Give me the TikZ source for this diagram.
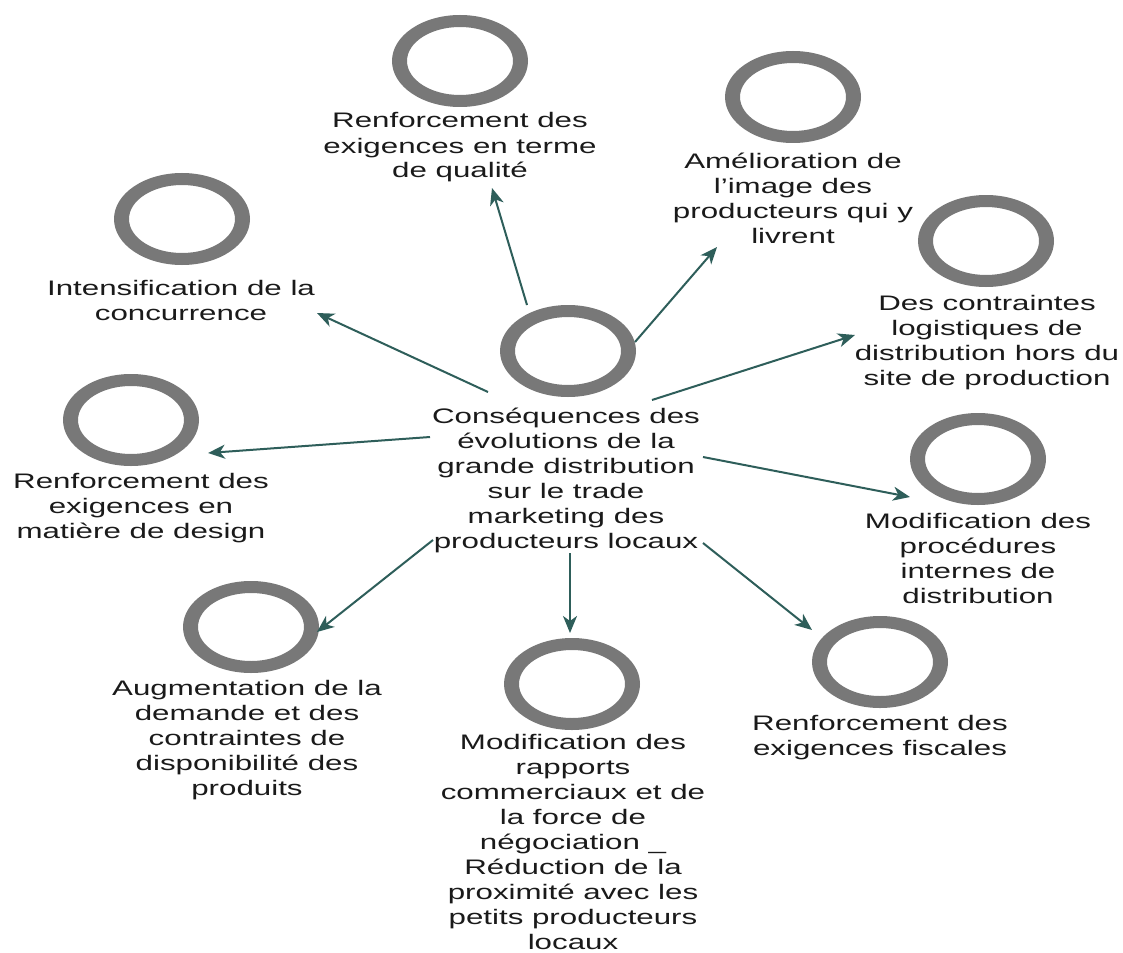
\documentclass[tikz,border=0pt]{standalone}
\usepackage{fontspec}
\setmainfont{Liberation Sans}[FakeStretch=1.49]
\usetikzlibrary{arrows.meta,shapes.geometric}
\definecolor{ringgray}{HTML}{787878}
\definecolor{arrteal}{HTML}{2E5E5A}
\definecolor{txt}{HTML}{1A1A1A}
\tikzset{
  lbl/.style={align=center, anchor=base, inner sep=0pt, text=txt,
    font=\fontsize{21}{25}\selectfont},
  ringnode/.style={shape=ellipse, minimum width=136pt, minimum height=92pt, inner sep=0pt},
  arr/.style={draw=arrteal, line width=2pt, -{Stealth[length=17pt,width=14pt,inset=5pt]}}
}
\newcommand\ringat[2]{%
  \node[ringnode] (#1) at (#2) {};
  \fill[ringgray,even odd rule] (#1.center) ellipse[x radius=68,y radius=46]
     (#1.center) ellipse[x radius=53,y radius=34];}
\begin{document}
\begin{tikzpicture}[x=1pt,y=-1pt]
\useasboundingbox[fill=white] (0,0) rectangle (1123,952);
% rings
\ringat{rc}{568,351}
\ringat{rqual}{460,61}
\ringat{ramel}{793,97}
\ringat{rlogi}{986,241}
\ringat{rproc}{978,459}
\ringat{rfisc}{880,662}
\ringat{rbot}{572,684}
\ringat{raugm}{251,627}
\ringat{rdes}{131,420}
\ringat{rint}{182,219}
% labels (anchored at the baseline of the last line)
\node[lbl] (tc) at (566,548) {Conséquences des\\évolutions de la\\grande distribution\\sur le trade\\marketing des\\producteurs locaux};
\node[lbl] (tqual) at (460,178) {Renforcement des\\exigences en terme\\de qualité};
\node[lbl] (tamel) at (793,243) {Amélioration de\\l'image des\\producteurs qui y\\livrent};
\node[lbl] (tlogi) at (987,385) {Des contraintes\\logistiques de\\distribution hors du\\site de production};
\node[lbl] (tproc) at (978,603) {Modification des\\procédures\\internes de\\distribution};
\node[lbl] (tfisc) at (880,755) {Renforcement des\\exigences fiscales};
\node[lbl] (tbot) at (573,949) {Modification des\\rapports\\commerciaux et de\\la force de\\négociation \_\\Réduction de la\\proximité avec les\\petits producteurs\\locaux};
\node[lbl] (taugm) at (247,795) {Augmentation de la\\demande et des\\contraintes de\\disponibilité des\\produits};
\node[lbl] (tdes) at (141,538) {Renforcement des\\exigences en\\matière de design};
\node[lbl] (tint) at (181,320) {Intensification de la\\concurrence};
% connector ends
\coordinate (squal) at (527,305); \coordinate (equal) at (492,188);
\coordinate (samel) at (635,342); \coordinate (eamel) at (717,247);
\coordinate (slogi) at (652,400); \coordinate (elogi) at (855,335);
\coordinate (sproc) at (703,457); \coordinate (eproc) at (910,497);
\coordinate (sfisc) at (703,543); \coordinate (efisc) at (812,630);
\coordinate (sbot) at (570,553);  \coordinate (ebot) at (570,633);
\coordinate (saugm) at (433,540); \coordinate (eaugm) at (317,632);
\coordinate (sdes) at (430,437);  \coordinate (edes) at (208,453);
\coordinate (sint) at (488,392);  \coordinate (eint) at (317,313);
\draw[arr] (squal) -- (equal);
\draw[arr] (samel) -- (eamel);
\draw[arr] (slogi) -- (elogi);
\draw[arr] (sproc) -- (eproc);
\draw[arr] (sfisc) -- (efisc);
\draw[arr] (sbot) -- (ebot);
\draw[arr] (saugm) -- (eaugm);
\draw[arr] (sdes) -- (edes);
\draw[arr] (sint) -- (eint);
\end{tikzpicture}
\end{document}
